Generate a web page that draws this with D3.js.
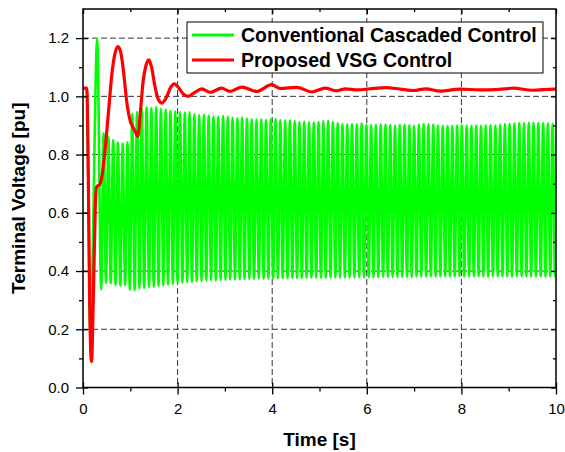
<!DOCTYPE html>
<html>
<head>
<meta charset="utf-8">
<script src="https://cdn.jsdelivr.net/npm/d3@7/dist/d3.min.js"></script>
<style>
  html, body { margin: 0; padding: 0; background: #fff; }
  svg { display: block; font-family: "Liberation Sans", Arial, sans-serif; }
</style>
</head>
<body>
<svg id="chart" width="565" height="452"></svg>
<script>
// Terminal voltage after a fault: conventional cascaded control vs. proposed VSG control

const xTicks = [0, 2, 4, 6, 8, 10];
const xMinorTicks = [1, 3, 5, 7, 9];
const yTicks = [0.0, 0.2, 0.4, 0.6, 0.8, 1.0, 1.2];
const yMinorTicks = [0.1, 0.3, 0.5, 0.7, 0.9, 1.1];

const seriesNames = ["Conventional Cascaded Control", "Proposed VSG Control"];
const seriesColors = ["#00ff00", "#ff0000"];

// Proposed VSG control: [time s, voltage pu]
const vsgVoltage = [
  [0, 1.028], [0.08, 1.028], [0.11, 0.75], [0.14, 0.3], [0.18, 0.089], [0.22, 0.32],
  [0.26, 0.62], [0.29, 0.69], [0.35, 0.697], [0.40, 0.725], [0.45, 0.79], [0.53, 0.93],
  [0.62, 1.09], [0.68, 1.15], [0.74, 1.171], [0.80, 1.15], [0.86, 1.08], [0.93, 0.975],
  [1.00, 0.915], [1.06, 0.892], [1.11, 0.878], [1.16, 0.862], [1.21, 0.94], [1.27, 1.05],
  [1.33, 1.105], [1.39, 1.125], [1.45, 1.10], [1.52, 1.035], [1.59, 0.99], [1.67, 0.977],
  [1.76, 0.995], [1.85, 1.03], [1.93, 1.043], [2.02, 1.03], [2.12, 1.008], [2.22, 1.0],
  [2.35, 1.012], [2.51, 1.026], [2.69, 1.014], [2.93, 1.028], [3.11, 1.017], [3.36, 1.032],
  [3.67, 1.017], [3.99, 1.04], [4.17, 1.027], [4.52, 1.031], [4.84, 1.015], [5.12, 1.028],
  [5.36, 1.019], [5.55, 1.026], [5.8, 1.022], [6.07, 1.026], [6.4, 1.03], [6.7, 1.025],
  [6.99, 1.02], [7.25, 1.026], [7.55, 1.018], [7.97, 1.025], [8.4, 1.022], [8.8, 1.024],
  [9.1, 1.028], [9.5, 1.021], [9.95, 1.025], [10, 1.025]
];

// Conventional control: fault transient before the sustained oscillation
const cascadedLeadIn = [
  [0, 1.028], [0.08, 1.028], [0.11, 0.75], [0.14, 0.3], [0.17, 0.12], [0.22, 0.6], [0.30, 1.197]
];

// Sustained oscillation (~10 Hz): one trough and one peak per cycle
const oscStart = 0.385;   // time of first trough, s
const oscPeriod = 0.101;  // s

const cascadedTroughs = [
  0.337, 0.360, 0.358, 0.352, 0.350, 0.352, 0.336, 0.334, 0.340, 0.342,
  0.345, 0.346, 0.349, 0.351, 0.354, 0.356, 0.358, 0.360, 0.362, 0.363,
  0.365, 0.366, 0.367, 0.368, 0.368, 0.369, 0.370, 0.371, 0.371, 0.372,
  0.372, 0.373, 0.373, 0.374, 0.374, 0.374, 0.375, 0.375, 0.375, 0.375,
  0.376, 0.376, 0.376, 0.377, 0.377, 0.377, 0.377, 0.377, 0.378, 0.378,
  0.378, 0.378, 0.378, 0.378, 0.379, 0.379, 0.379, 0.379, 0.379, 0.380,
  0.380, 0.380, 0.380, 0.380, 0.380, 0.380, 0.381, 0.381, 0.381, 0.381,
  0.381, 0.381, 0.382, 0.381, 0.381, 0.382, 0.381, 0.381, 0.382, 0.382,
  0.381, 0.381, 0.382, 0.382, 0.381, 0.381, 0.381, 0.382, 0.382, 0.381,
  0.381, 0.382, 0.381, 0.381, 0.381, 0.382
];

const cascadedPeaks = [
  0.873, 0.862, 0.850, 0.841, 0.838, 0.842, 0.940, 0.946, 0.956, 0.962,
  0.960, 0.963, 0.957, 0.955, 0.950, 0.948, 0.946, 0.944, 0.945, 0.938,
  0.936, 0.937, 0.934, 0.931, 0.930, 0.932, 0.930, 0.926, 0.925, 0.927,
  0.924, 0.921, 0.920, 0.921, 0.919, 0.922, 0.923, 0.919, 0.917, 0.918,
  0.915, 0.912, 0.913, 0.911, 0.910, 0.912, 0.915, 0.916, 0.912, 0.908,
  0.905, 0.904, 0.905, 0.904, 0.907, 0.903, 0.901, 0.902, 0.904, 0.903,
  0.901, 0.900, 0.902, 0.903, 0.901, 0.899, 0.903, 0.905, 0.905, 0.903,
  0.900, 0.899, 0.898, 0.899, 0.900, 0.901, 0.900, 0.899, 0.900, 0.899,
  0.900, 0.901, 0.900, 0.903, 0.905, 0.906, 0.907, 0.908, 0.908, 0.909,
  0.909, 0.908, 0.908, 0.907, 0.906, 0.906
];

// ---- layout ----
const svg = d3.select("#chart");
const plotLeft = 83, plotRight = 556, plotTop = 9, plotBottom = 387.5;

const x = d3.scaleLinear().domain([0, 10]).range([plotLeft, plotRight]);
const y = d3.scaleLinear().domain([0, 1.3]).range([plotBottom, plotTop]);

// assemble the conventional-control trace
const cascadedVoltage = cascadedLeadIn.slice();
cascadedTroughs.forEach((v, i) => {
  const t = oscStart + i * oscPeriod;
  cascadedVoltage.push([t, v]);
  cascadedVoltage.push([t + oscPeriod / 2, cascadedPeaks[i]]);
});

svg.append("defs").append("clipPath").attr("id", "plot-clip")
  .append("rect").attr("x", plotLeft).attr("y", plotTop)
  .attr("width", plotRight - plotLeft).attr("height", plotBottom - plotTop);

// ---- grid ----
const grid = svg.append("g").attr("class", "grid")
  .attr("stroke", "#333").attr("stroke-width", 1).attr("stroke-dasharray", "6,3");
grid.selectAll("line.gx").data(xTicks.filter(v => v > 0 && v < 10)).join("line")
  .attr("class", "gx")
  .attr("x1", d => x(d)).attr("x2", d => x(d))
  .attr("y1", plotTop).attr("y2", plotBottom);
grid.selectAll("line.gy").data(yTicks.filter(v => v > 0)).join("line")
  .attr("class", "gy")
  .attr("x1", plotLeft).attr("x2", plotRight)
  .attr("y1", d => y(d)).attr("y2", d => y(d));

// ---- traces ----
const line = d3.line().x(d => x(d[0])).y(d => y(d[1])).curve(d3.curveMonotoneX);
const plot = svg.append("g").attr("clip-path", "url(#plot-clip)");
plot.append("path").datum(cascadedVoltage)
  .attr("fill", "none").attr("stroke", seriesColors[0]).attr("stroke-width", 2.6)
  .attr("stroke-linejoin", "round")
  .attr("d", line);
plot.append("path").datum(vsgVoltage)
  .attr("fill", "none").attr("stroke", seriesColors[1]).attr("stroke-width", 3.2)
  .attr("stroke-linejoin", "round")
  .attr("d", line);

// ---- axes ----
function styleAxis(g) {
  g.select(".domain").remove();
  g.selectAll(".tick line").attr("stroke", "#000").attr("stroke-width", 1.3);
  g.selectAll(".tick text").attr("fill", "#000")
    .style("font-size", "15px").style("font-family", '"Liberation Sans", Arial, sans-serif');
}

// bottom: labelled ticks outward, plus inward stubs and minor ticks
svg.append("g").attr("transform", `translate(0,${plotBottom})`)
  .call(d3.axisBottom(x).tickValues(xTicks).tickSize(7).tickPadding(9).tickFormat(d3.format("d")))
  .call(styleAxis);
svg.append("g").attr("transform", `translate(0,${plotBottom})`)
  .call(d3.axisBottom(x).tickValues(xTicks).tickSize(-5).tickFormat(""))
  .call(styleAxis);
svg.append("g").attr("transform", `translate(0,${plotBottom})`)
  .call(d3.axisBottom(x).tickValues(xMinorTicks).tickSize(4).tickFormat(""))
  .call(styleAxis);

// left
svg.append("g").attr("transform", `translate(${plotLeft},0)`)
  .call(d3.axisLeft(y).tickValues(yTicks).tickSize(7).tickPadding(7).tickFormat(d3.format(".1f")))
  .call(styleAxis);
svg.append("g").attr("transform", `translate(${plotLeft},0)`)
  .call(d3.axisLeft(y).tickValues(yTicks).tickSize(-5).tickFormat(""))
  .call(styleAxis);
svg.append("g").attr("transform", `translate(${plotLeft},0)`)
  .call(d3.axisLeft(y).tickValues(yMinorTicks).tickSize(4).tickFormat(""))
  .call(styleAxis);

// top and right: inward ticks only
svg.append("g").attr("transform", `translate(0,${plotTop})`)
  .call(d3.axisTop(x).tickValues(xTicks).tickSize(-5).tickFormat(""))
  .call(styleAxis);
svg.append("g").attr("transform", `translate(0,${plotTop})`)
  .call(d3.axisTop(x).tickValues(xMinorTicks).tickSize(-3).tickFormat(""))
  .call(styleAxis);
svg.append("g").attr("transform", `translate(${plotRight},0)`)
  .call(d3.axisRight(y).tickValues(yTicks).tickSize(-5).tickFormat(""))
  .call(styleAxis);
svg.append("g").attr("transform", `translate(${plotRight},0)`)
  .call(d3.axisRight(y).tickValues(yMinorTicks).tickSize(-3).tickFormat(""))
  .call(styleAxis);

// frame
svg.append("rect")
  .attr("x", plotLeft).attr("y", plotTop)
  .attr("width", plotRight - plotLeft).attr("height", plotBottom - plotTop)
  .attr("fill", "none").attr("stroke", "#000").attr("stroke-width", 1.5);

// axis titles
svg.append("text")
  .attr("x", (plotLeft + plotRight) / 2).attr("y", 446)
  .attr("text-anchor", "middle")
  .style("font-size", "19px").style("font-weight", "bold")
  .text("Time [s]");
svg.append("text")
  .attr("transform", `translate(25,${(plotTop + plotBottom) / 2}) rotate(-90)`)
  .attr("text-anchor", "middle")
  .style("font-size", "19px").style("font-weight", "bold")
  .text("Terminal Voltage [pu]");

// ---- legend ----
const legend = svg.append("g");
legend.append("rect")
  .attr("x", 187).attr("y", 22).attr("width", 356).attr("height", 51)
  .attr("fill", "#fff").attr("stroke", "#000").attr("stroke-width", 1);
seriesNames.forEach((name, i) => {
  const cy = 35 + i * 25;
  legend.append("line")
    .attr("x1", 192).attr("x2", 234).attr("y1", cy).attr("y2", cy)
    .attr("stroke", seriesColors[i]).attr("stroke-width", 3);
  legend.append("text")
    .attr("x", 241).attr("y", cy + 7)
    .style("font-size", "19.5px").style("font-weight", "bold")
    .text(name);
});
</script>
</body>
</html>
